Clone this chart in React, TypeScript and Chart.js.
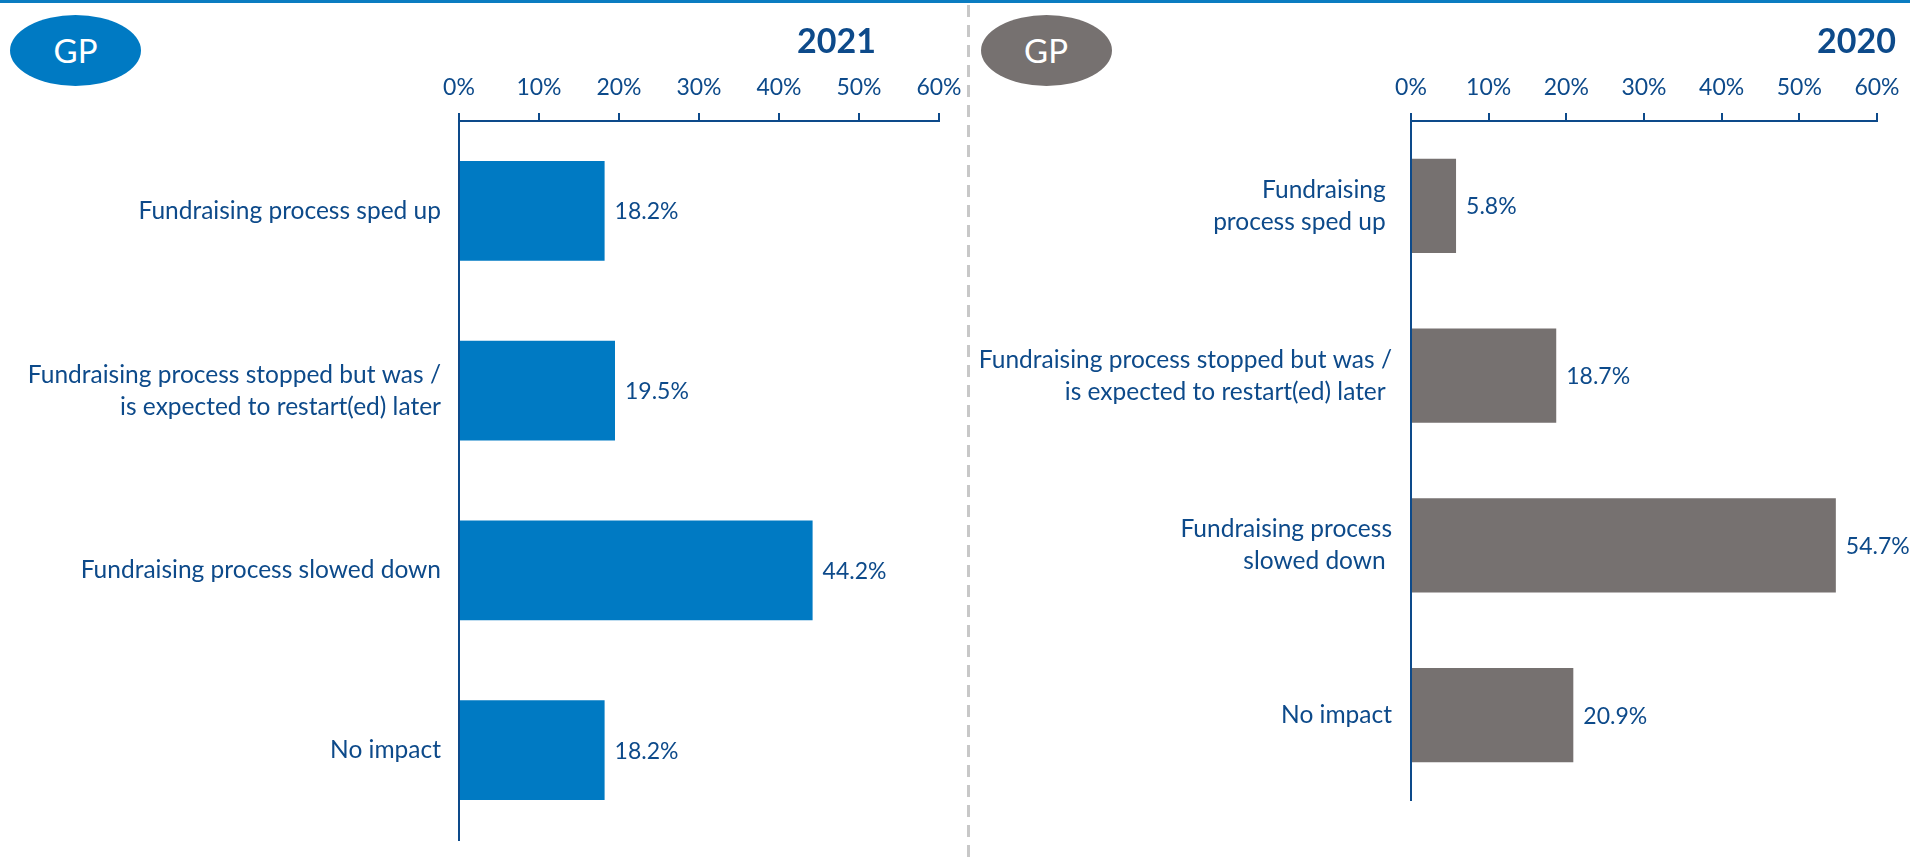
import React, { useEffect, useRef } from "react";
import { Chart, registerables } from "chart.js";

Chart.register(...registerables);

const NAVY = "#0d4a8a";
const BLUE = "#007ac3";
const GREY = "#767170";

const categories2021: (string | string[])[] = [
  "Fundraising process sped up",
  ["Fundraising process stopped but was /", "is expected to restart(ed) later"],
  "Fundraising process slowed down",
  "No impact",
];
const values2021 = [18.2, 19.5, 44.2, 18.2];

const categories2020: (string | string[])[] = [
  ["Fundraising ", "process sped up "],
  ["Fundraising process stopped but was /", "is expected to restart(ed) later "],
  ["Fundraising process", "slowed down "],
  "No impact",
];
const values2020 = [5.8, 18.7, 54.7, 20.9];

const axisMin = 0;
const axisMax = 60;
const axisStep = 10;

const valueLabelPlugin = {
  id: "valueLabels",
  afterDatasetsDraw(chart: any) {
    const ctx = chart.ctx;
    ctx.save();
    ctx.font = "23px Lato";
    ctx.fillStyle = NAVY;
    ctx.textAlign = "left";
    ctx.textBaseline = "middle";
    chart.data.datasets.forEach((ds: any, di: number) => {
      const meta = chart.getDatasetMeta(di);
      meta.data.forEach((bar: any, i: number) => {
        const v = ds.data[i];
        ctx.fillText(v.toFixed(1) + "%", bar.x + 10, bar.y + 1);
      });
    });
    ctx.restore();
  },
};

interface PanelProps {
  left: number;
  width: number;
  height: number;
  labels: (string | string[])[];
  values: number[];
  color: string;
  yWidth: number;
  padRight: number;
  padBottom: number;
  labelPad: number;
}

function Panel(p: PanelProps) {
  const ref = useRef<HTMLCanvasElement | null>(null);
  useEffect(() => {
    if (!ref.current) return;
    const chart = new Chart(ref.current, {
      type: "bar",
      data: {
        labels: p.labels,
        datasets: [
          {
            data: p.values,
            backgroundColor: p.color,
            borderWidth: 0,
            categoryPercentage: 1,
            barPercentage: 0.555,
          },
        ],
      },
      options: {
        indexAxis: "y",
        responsive: false,
        animation: false,
        layout: { padding: { left: 0, top: 0, right: p.padRight, bottom: p.padBottom } },
        plugins: { legend: { display: false }, tooltip: { enabled: false }, title: { display: false } },
        scales: {
          x: {
            position: "top",
            min: axisMin,
            max: axisMax,
            ticks: {
              stepSize: axisStep,
              color: NAVY,
              font: { family: "Lato", size: 23, lineHeight: 1.2 },
              padding: 12,
              callback: (v: any) => v + "%",
            },
            grid: {
              drawOnChartArea: false,
              drawTicks: true,
              tickLength: 8,
              color: NAVY,
              lineWidth: 2,
            },
            border: { display: true, color: NAVY, width: 2 },
            afterFit: (s: any) => {
              s.height = 121;
            },
          },
          y: {
            ticks: {
              color: NAVY,
              font: { family: "Lato", size: 24.5, lineHeight: 1.306 },
              padding: p.labelPad,
            },
            grid: { drawOnChartArea: false, drawTicks: false, display: false },
            border: { display: true, color: NAVY, width: 2 },
            afterFit: (s: any) => {
              s.width = p.yWidth;
            },
          },
        },
      },
      plugins: [valueLabelPlugin],
    } as any);
    return () => chart.destroy();
  }, []);
  return (
    <canvas
      ref={ref}
      width={p.width}
      height={p.height}
      style={{ position: "absolute", left: p.left, top: 0, width: p.width, height: p.height }}
    />
  );
}

function Badge({ cx, color }: { cx: number; color: string }) {
  return (
    <div
      style={{
        position: "absolute",
        left: cx - 65.5,
        top: 15,
        width: 131,
        height: 71,
        borderRadius: "50%",
        background: color,
        color: "#ffffff",
        fontFamily: "Lato",
        fontSize: 33,
        lineHeight: "71px",
        textAlign: "center",
      }}
    >
      GP
    </div>
  );
}

function Year({ right, text }: { right: number; text: string }) {
  return (
    <div
      style={{
        position: "absolute",
        left: right - 200,
        width: 200,
        top: 18,
        height: 44,
        lineHeight: "44px",
        textAlign: "right",
        fontFamily: "Lato",
        fontWeight: 700,
        fontSize: 34,
        color: NAVY,
      }}
    >
      {text}
    </div>
  );
}

export default function App() {
  return (
    <div
      style={{
        position: "absolute",
        left: 0,
        top: 0,
        width: 1910,
        height: 859,
        background: "#ffffff",
        overflow: "hidden",
      }}
    >
      <Panel
        left={0}
        width={1000}
        height={910}
        labels={categories2021}
        values={values2021}
        color={BLUE}
        yWidth={459}
        padRight={61}
        padBottom={70}
        labelPad={18}
      />
      <Panel
        left={970}
        width={990}
        height={910}
        labels={categories2020}
        values={values2020}
        color={GREY}
        yWidth={441}
        padRight={83}
        padBottom={110}
        labelPad={19}
      />
      <div style={{ position: "absolute", left: 0, top: 0, width: 1910, height: 2.5, background: "#0a7cc1" }} />
      <div
        style={{
          position: "absolute",
          left: 967,
          top: 5,
          width: 2.5,
          height: 854,
          backgroundImage: "repeating-linear-gradient(to bottom, #c8c8c8 0px, #c8c8c8 12px, transparent 12px, transparent 20px)",
        }}
      />
      <Badge cx={75.5} color={BLUE} />
      <Badge cx={1046} color={GREY} />
      <Year right={876} text="2021" />
      <Year right={1896} text="2020" />
    </div>
  );
}
